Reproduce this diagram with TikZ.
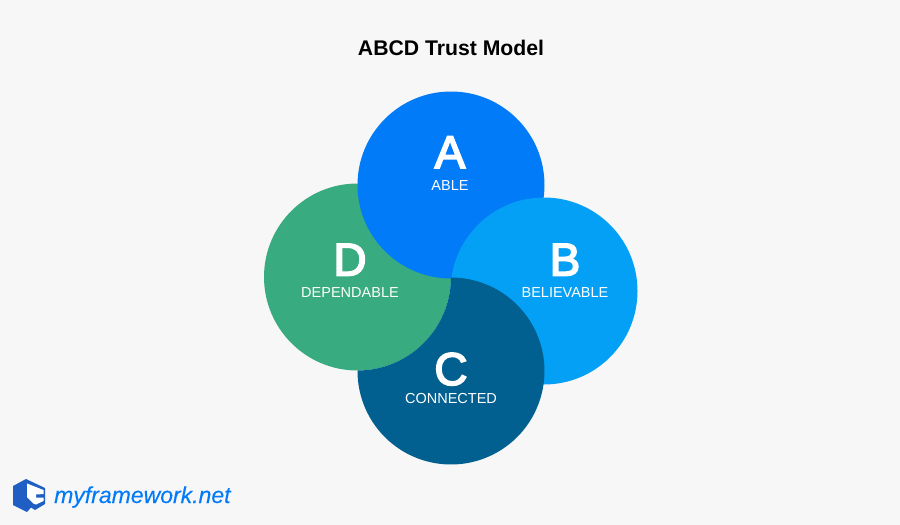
\documentclass[tikz,border=0pt]{standalone}
\usepackage{fontspec}
\setmainfont{Liberation Sans}
\definecolor{bgc}{HTML}{F7F7F7}
\definecolor{ca}{HTML}{027BF8}
\definecolor{cb}{HTML}{04A0F5}
\definecolor{cc}{HTML}{01608F}
\definecolor{cd}{HTML}{38AB80}
\definecolor{logoc}{HTML}{1F5FC4}
\tikzset{
 letter/.style={text=white,font=\fontsize{46}{46}\selectfont\addfontfeature{FakeBold=3.5},anchor=base},
 word/.style={text=white,font=\fontsize{14.5}{14.5}\selectfont,anchor=base},
}
\begin{document}
\begin{tikzpicture}[x=1pt,y=-1pt]
\fill[bgc] (0,0) rectangle (900,525);
\useasboundingbox (0,0) rectangle (900,525);
\node[anchor=base,font=\fontsize{21.2}{21}\selectfont\bfseries] (title) at (451,55) {ABCD Trust Model};
\fill[cd] (357.5,277) circle (93.5);
\fill[ca] (451,185) circle (93.5);
\fill[cb] (544,291) circle (93.5);
\fill[cc] plot[domain=-90:180,samples=140] ({451+93.5*cos(\x)},{371+93.5*sin(\x)})
  -- plot[domain=90:0,samples=60] ({357.5+93.5*cos(\x)},{277+93.5*sin(\x)}) -- cycle;
\node[letter] (la) at (450,168) {A};
\node[word] (wa) at (450,190) {ABLE};
\node[letter] (lb) at (565,275.5) {B};
\node[word] (wb) at (565,297) {BELIEVABLE};
\node[letter] (lc) at (451,385) {C};
\node[word] (wc) at (451,403) {CONNECTED};
\node[letter] (ld) at (350,275.5) {D};
\node[word] (wd) at (350,297) {DEPENDABLE};
\fill[logoc] (13,486) -- (26,479) -- (45,488) -- (45,504) -- (35,510) -- (31,507.5) -- (27,512) -- (13,505) -- cycle;
\fill[white] (27,483.5) -- (43.5,490) -- (43.5,494) -- (36,494.5) -- (36,497.5) -- (43.5,497.5) -- (43.5,501) -- (36,504.5) -- (33.5,503.5) -- (27,497) -- cycle;
\node[anchor=base west,inner xsep=0pt,text=ca,font=\fontsize{23}{23}\selectfont\itshape\addfontfeature{FakeBold=0.2}] (logo) at (54,503) {myframework.net};
\end{tikzpicture}
\end{document}
